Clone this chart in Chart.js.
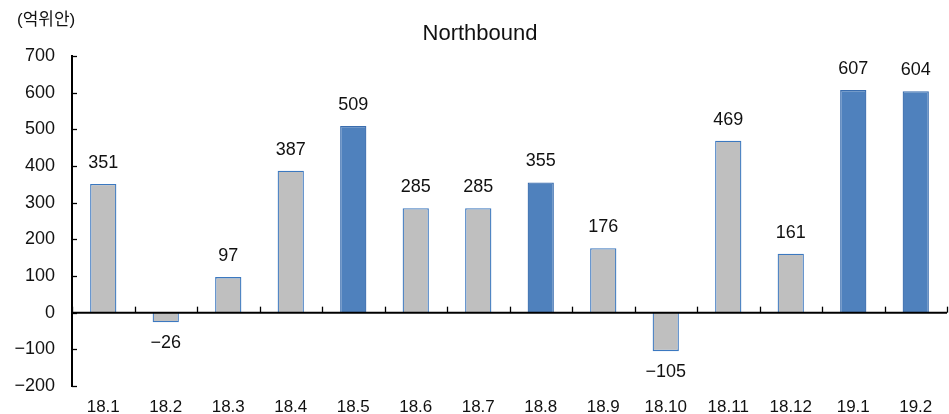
<!DOCTYPE html>
<html>
<head>
<meta charset="utf-8">
<script src="https://cdn.jsdelivr.net/npm/chart.js@4"></script>
<style>
html,body{margin:0;padding:0;background:#fff;}
#wrap{width:949px;height:414px;position:relative;}
</style>
</head>
<body>
<div id="wrap"><canvas id="c" width="949" height="414"></canvas></div>
<script>
const categories = ['18.1','18.2','18.3','18.4','18.5','18.6','18.7','18.8','18.9','18.10','18.11','18.12','19.1','19.2'];
const values = [351, -26, 97, 387, 509, 285, 285, 355, 176, -105, 469, 161, 607, 604];
const highlighted = [false,false,false,false,true,false,false,true,false,false,false,false,true,true];
const yTicks = [-200,-100,0,100,200,300,400,500,600,700];
const titleText = 'Northbound';
const unitText = '(억위안)';

const FONT = '"Liberation Sans", "Noto Sans CJK KR", Arial, sans-serif';
const fmt = v => (v < 0 ? '\u2212' + Math.abs(v) : String(v));

const overlay = {
  id: 'overlay',
  afterDatasetsDraw(chart) {
    const ctx = chart.ctx;
    const xs = chart.scales.x, ys = chart.scales.y;
    const area = chart.chartArea;
    const y0 = ys.getPixelForValue(0);
    ctx.save();
    // zero line
    ctx.strokeStyle = '#000';
    ctx.lineWidth = 2;
    ctx.beginPath();
    ctx.moveTo(area.left, y0);
    ctx.lineTo(area.right, y0);
    ctx.stroke();
    // x tick marks at category boundaries
    const step = xs.getPixelForValue(1) - xs.getPixelForValue(0);
    ctx.lineWidth = 1.3;
    for (let i = 0; i <= categories.length; i++) {
      const px = Math.round(xs.getPixelForValue(i) - step / 2) + 0.5;
      ctx.beginPath();
      ctx.moveTo(px, y0);
      ctx.lineTo(px, y0 - 6);
      ctx.stroke();
    }
    // y tick marks inward
    yTicks.forEach(v => {
      const py = Math.round(ys.getPixelForValue(v)) + 0.5;
      ctx.beginPath();
      ctx.moveTo(area.left, py);
      ctx.lineTo(area.left + 5, py);
      ctx.stroke();
    });
    // data labels
    ctx.fillStyle = '#111';
    ctx.font = '18px ' + FONT;
    ctx.textAlign = 'center';
    ctx.textBaseline = 'middle';
    const meta = chart.getDatasetMeta(0);
    meta.data.forEach((bar, i) => {
      const v = values[i];
      const yy = v >= 0 ? bar.y - 21 : bar.y + 21;
      ctx.fillText(fmt(v), bar.x, yy);
    });
    // title & unit
    ctx.font = '22px ' + FONT;
    ctx.fillText(titleText, 480, 34);
    ctx.font = '17px ' + FONT;
    ctx.textAlign = 'left';
    ctx.fillText(unitText, 17, 20);
    ctx.restore();
  }
};

new Chart(document.getElementById('c'), {
  type: 'bar',
  data: {
    labels: categories,
    datasets: [{
      data: values,
      backgroundColor: highlighted.map(h => h ? '#4F81BD' : '#BFBFBF'),
      borderColor: highlighted.map(h => h ? '#3A6DAE' : '#3B78C0'),
      borderWidth: 1.3,
      barPercentage: 0.42,
      categoryPercentage: 1.0
    }]
  },
  options: {
    responsive: false,
    animation: false,
    devicePixelRatio: 1,
    layout: { padding: { top: 56, right: 2, left: 0, bottom: 0 } },
    plugins: { legend: { display: false }, tooltip: { enabled: false }, title: { display: false } },
    scales: {
      x: {
        offset: true,
        grid: { display: false, drawTicks: false },
        border: { display: false },
        ticks: { color: '#111', font: { size: 17, family: FONT }, padding: 11, maxRotation: 0, autoSkip: false },
        afterFit(s) { s.height = 28; }
      },
      y: {
        min: -200, max: 700,
        afterBuildTicks(s) { s.ticks = yTicks.map(v => ({ value: v })); },
        grid: { display: false, drawTicks: false },
        border: { display: true, color: '#000', width: 2 },
        ticks: { color: '#111', font: { size: 18, family: FONT }, padding: 17, callback: v => fmt(v) },
        afterFit(s) { s.width = 72; }
      }
    }
  },
  plugins: [overlay]
});
</script>
</body>
</html>
